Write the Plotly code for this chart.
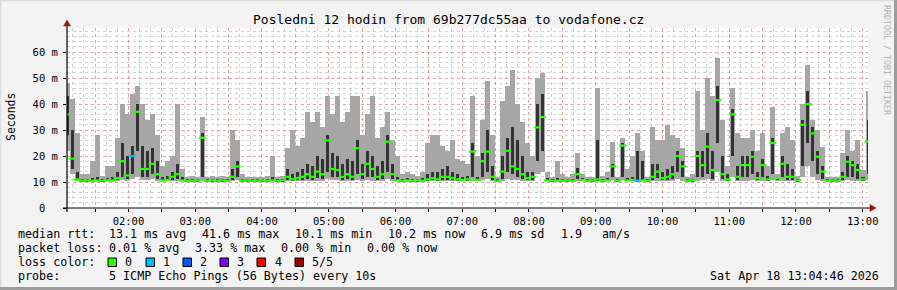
import pandas as pd
import plotly.graph_objects as go

# ---------------- data ----------------
start_time = "2026-04-18 01:04:46"
step_seconds = 270
n_samples = 161

rtt_median = [
    36, 19, 11, 10.5, 10.6, 10.5, 10.6, 10.5, 10.7, 10.6,
    11.5, 18, 12.5, 20, 37, 15, 15, 17, 13, 10.6,
    10.8, 12, 13, 10.6, 10.5, 10.5, 10.6, 27, 10.5, 10.6,
    10.5, 10.6, 10.5, 12, 16, 10.5, 10.6, 10.5, 10.5, 10.6,
    10.5, 10.6, 10.5, 10.6, 12, 11, 11.5, 12, 13, 12,
    14, 13, 26, 15, 14.6, 12, 13, 12, 23, 13,
    17, 15, 12, 13, 25.5, 13, 10.6, 10.5, 10.6, 10.5,
    10.6, 10.5, 11, 11.5, 11, 12, 12, 11.5, 11, 10.8,
    11, 21.7, 10.8, 18, 21.7, 12, 10.5, 14, 22, 16,
    15, 13, 11.5, 12, 31, 35, 10.6, 10.5, 10.5, 10.5,
    10.6, 10.5, 13, 10.8, 10.5, 10.6, 11, 10.5, 10.6, 16,
    10.5, 24, 10.6, 10.8, 10.5, 10.6, 10.5, 12, 14, 11.5,
    12, 13, 20, 16, 10.5, 10.6, 20, 16.5, 23.6, 14.6,
    41.5, 13, 11, 36, 12, 16.5, 16.5, 19.7, 11.5, 16.5,
    11, 25, 11.5, 17, 12, 12, 10.6, 32, 40, 28.7,
    19.7, 14, 10.5, 10.6, 10.5, 12, 17.8, 16.5, 14.6, 11,
    25.5,
]

rtt_max = [
    48, 42, 29, 13, 13, 18, 28, 12.5, 16, 16,
    27, 40, 36, 44, 47, 40, 34, 36, 28, 16,
    18, 20, 40, 15, 12, 12.5, 12, 35, 12, 12.5,
    12, 12.5, 12, 30, 26, 13, 12, 11.8, 12, 12,
    12.5, 20, 12, 12.5, 23, 30, 24, 27, 37, 33,
    37, 31, 43, 36, 43, 33, 37, 43, 43, 28,
    36, 43, 27, 31, 37, 26, 20, 13, 14, 13,
    12.5, 14, 25, 28, 28, 24, 22, 26, 19, 18,
    17, 43, 20, 34, 49, 28, 12, 41, 47, 53,
    40, 33, 25, 20, 50, 52, 14, 12, 18, 13,
    12, 13, 21, 13, 12, 12, 46, 12.5, 14, 25.5,
    11.8, 27, 15, 20, 29, 22, 12, 31, 26, 26,
    32, 28, 27, 23, 12, 13, 45, 30, 50, 43,
    57.6, 34, 16, 46, 29, 27, 27, 30, 22, 29,
    16, 39, 13, 29, 31, 26, 12.5, 40, 55, 34,
    30, 23.6, 12, 11.8, 12, 21, 30, 22, 26, 14.6,
    45,
]

rtt_upper = [
    43, 30, 14, 11, 11, 11.5, 12, 11, 11.5, 12,
    14, 25, 20, 24, 40, 24, 22, 23, 18, 12,
    12.5, 14, 17, 12, 11, 11, 11, 29, 11, 11,
    11, 11, 11.2, 15, 18, 11, 11, 11, 11, 11,
    11, 12, 11, 11, 15, 13, 14, 15, 17, 16,
    20, 19, 28, 21, 20, 17, 19, 18, 26, 17,
    22, 20, 16, 18, 28, 17, 12, 11, 11.5, 11,
    11, 11.5, 13, 14, 14, 15, 16, 14, 13, 12,
    12.5, 25, 12, 21, 30, 16, 11, 20, 27, 31,
    26, 20, 14, 14, 40, 44, 11.5, 11, 11.5, 11,
    11, 11.2, 15.5, 11.5, 11, 11, 26, 11, 11.5, 17,
    11, 25, 11.5, 12, 22, 18, 11, 17, 17, 14,
    15, 16, 22, 18, 11, 11, 22, 22, 29, 22,
    47, 20, 13, 38, 16, 20, 20, 22, 14, 19,
    12.5, 27, 12, 20, 17, 15, 11, 34, 45, 31,
    22, 16, 11, 11, 11, 14, 20, 18, 17, 12,
    34,
]

rtt_lower = [
    28, 15, 10.6, 10.3, 10.3, 10.3, 10.4, 10.3, 10.4, 10.4,
    10.8, 12, 11, 13, 22, 12, 12, 13, 11, 10.4,
    10.4, 10.8, 11, 10.4, 10.3, 10.3, 10.3, 12, 10.3, 10.3,
    10.3, 10.3, 10.3, 10.8, 12, 10.3, 10.3, 10.3, 10.3, 10.3,
    10.3, 10.4, 10.3, 10.3, 10.8, 10.5, 10.6, 10.8, 11, 10.8,
    11.5, 11, 14, 12, 12, 10.8, 11, 10.8, 13, 11,
    12, 12, 10.8, 11, 14, 11, 10.4, 10.3, 10.3, 10.3,
    10.3, 10.3, 10.5, 10.6, 10.5, 10.8, 10.8, 10.6, 10.5, 10.4,
    10.5, 12, 10.4, 12, 14, 10.8, 10.3, 11, 14, 13,
    12, 11, 10.6, 10.8, 18, 22, 10.4, 10.3, 10.3, 10.3,
    10.3, 10.3, 11, 10.4, 10.3, 10.3, 10.5, 10.3, 10.4, 12,
    10.3, 12, 10.4, 10.4, 10.3, 10.4, 10.3, 10.8, 11.5, 10.6,
    10.8, 11, 14, 12, 10.3, 10.3, 12, 12, 13, 11,
    25, 11, 10.4, 20, 10.8, 12, 12, 13, 10.6, 12,
    10.4, 13, 10.6, 12, 10.8, 10.8, 10.3, 16, 25, 18,
    13, 11, 10.3, 10.3, 10.3, 10.8, 12, 12, 11, 10.4,
    13,
]

rtt_min = [
    22, 13, 10.3, 10.1, 10.1, 10.1, 10.2, 10.1, 10.2, 10.2,
    10.3, 10.6, 10.4, 11, 12, 10.6, 10.6, 11, 10.5, 10.2,
    10.2, 10.3, 10.4, 10.2, 10.1, 10.1, 10.1, 10.5, 10.1, 10.1,
    10.1, 10.1, 10.1, 10.3, 10.6, 10.1, 10.1, 10.1, 10.1, 10.1,
    10.1, 10.2, 10.1, 10.1, 10.3, 10.2, 10.3, 10.4, 10.4, 10.3,
    10.5, 10.4, 11, 10.6, 10.6, 10.3, 10.4, 10.3, 10.8, 10.4,
    10.6, 10.5, 10.3, 10.4, 11, 10.4, 10.2, 10.1, 10.1, 10.1,
    10.1, 10.1, 10.2, 10.2, 10.2, 10.3, 10.3, 10.2, 10.2, 10.2,
    10.2, 10.5, 10.2, 10.6, 11, 10.4, 10.1, 10.4, 11, 10.8,
    10.6, 10.4, 10.2, 10.3, 13, 14, 10.2, 10.1, 10.1, 10.1,
    10.1, 10.1, 10.4, 10.2, 10.1, 10.1, 10.2, 10.1, 10.2, 10.6,
    10.1, 10.6, 10.2, 10.2, 10.1, 10.2, 10.1, 10.3, 10.5, 10.2,
    10.3, 10.4, 11, 10.5, 10.1, 10.1, 10.5, 10.6, 11, 10.4,
    14, 10.4, 10.2, 12, 10.3, 10.5, 10.5, 10.8, 10.2, 10.5,
    10.2, 10.8, 10.2, 10.5, 10.3, 10.3, 10.1, 12, 16, 12,
    10.8, 10.4, 10.1, 10.1, 10.1, 10.3, 10.6, 10.5, 10.4, 10.2,
    10.8,
]

# sample index -> number of lost pings (out of 5)
loss_events = {13: 1, 114: 1}

loss_labels = ["0", "1", "2", "3", "4", "5/5"]
loss_colors = ["#26ff00", "#00b8ff", "#0059ff", "#7e00ff", "#ff0000", "#a10000"]

hour_labels = ["02:00", "03:00", "04:00", "05:00", "06:00", "07:00",
               "08:00", "09:00", "10:00", "11:00", "12:00", "13:00"]
half_hour_lines = ["01:30", "02:30", "03:30", "04:30", "05:30", "06:30",
                   "07:30", "08:30", "09:30", "10:30", "11:30", "12:30"]

y_tick_values = [0, 10, 20, 30, 40, 50, 60]
y_tick_labels = ["0\u00a0\u00a0", "10 m", "20 m", "30 m", "40 m", "50 m", "60 m"]

title_text = "Posledni 12 hodin from 69b277dc55aa to vodafone.cz"
rtt_stats = ["13.1 ms avg", "41.6 ms max", "10.1 ms min", "10.2 ms now",
             "6.9 ms sd", "1.9", "am/s"]
loss_stats = ["0.01 % avg", "3.33 % max", "0.00 % min", "0.00 % now"]
probe_text = "5 ICMP Echo Pings (56 Bytes) every 10s"
date_text = "Sat Apr 18 13:04:46 2026"
end_time = "2026-04-18 13:04:46"
day = "2026-04-18 "

# ---------------- figure ----------------
W, H = 897, 290
L, R, T, B = 67, 868, 28, 208
MONO = "DejaVu Sans Mono"

def px(x):
    return (x - L) / (R - L)

def py(y):
    return (B - y) / (B - T)

times = pd.date_range(start_time, periods=n_samples, freq=f"{step_seconds}s")
bar_w = step_seconds * 1000

fig = go.Figure()
fig.add_trace(go.Bar(
    x=times, base=rtt_min, y=[h - l for h, l in zip(rtt_max, rtt_min)],
    width=bar_w, marker=dict(color="#a6a6a6", line=dict(width=0)),
    hoverinfo="skip"))
fig.add_trace(go.Bar(
    x=times, base=rtt_lower, y=[h - l for h, l in zip(rtt_upper, rtt_lower)],
    width=bar_w * 0.6, marker=dict(color="#333333", line=dict(width=0)),
    hoverinfo="skip"))
med_colors = [loss_colors[loss_events.get(i, 0)] for i in range(n_samples)]
fig.add_trace(go.Scatter(
    x=times, y=rtt_median, mode="markers",
    marker=dict(symbol="line-ew", size=5,
                line=dict(width=2.2, color=med_colors)),
    hoverinfo="skip"))

ymax = 60 + (52 - T) / 2.6

major_x = [day + t for t in half_hour_lines + hour_labels]
major_text = [""] * len(half_hour_lines) + hour_labels

GRID_MAJOR = "rgba(240,100,100,0.42)"
GRID_MINOR = "rgba(150,150,150,0.42)"

fig.update_layout(
    width=W, height=H,
    margin=dict(l=L, r=W - R, t=T, b=H - B, pad=0),
    paper_bgcolor="#f3f3f3", plot_bgcolor="#ffffff",
    showlegend=False, barmode="overlay", bargap=0,
    font=dict(family=MONO, color="#000000"),
    xaxis=dict(
        type="date", range=[start_time, end_time],
        tickmode="array", tickvals=major_x, ticktext=major_text,
        showgrid=True, gridcolor=GRID_MAJOR, griddash="dot", gridwidth=1,
        ticks="outside", ticklen=3, tickcolor="#000000", tickwidth=1,
        tickfont=dict(family=MONO, size=10.5, color="#000000"),
        minor=dict(dtick=600000, tick0="2026-04-18 01:00:00", showgrid=True,
                   gridcolor=GRID_MINOR, griddash="dot", gridwidth=1,
                   ticks=""),
        showline=False, zeroline=False, fixedrange=True,
    ),
    yaxis=dict(
        range=[0, ymax], tickmode="array", tickvals=y_tick_values, ticktext=y_tick_labels,
        showgrid=True, gridcolor=GRID_MAJOR, griddash="dot", gridwidth=1,
        ticks="outside", ticklen=3, tickcolor="#000000", tickwidth=1,
        ticklabelstandoff=3,
        tickfont=dict(family=MONO, size=10.5, color="#000000"),
        minor=dict(dtick=2, showgrid=True, gridcolor=GRID_MINOR,
                   griddash="dot", gridwidth=1, ticks=""),
        showline=False, zeroline=False, fixedrange=True,
    ),
)

shapes = []
# axes lines
shapes.append(dict(type="line", xref="paper", yref="paper",
                   x0=px(63), x1=px(872), y0=0, y1=0,
                   line=dict(color="#000000", width=1.2)))
shapes.append(dict(type="line", xref="paper", yref="paper",
                   x0=0, x1=0, y0=py(212), y1=py(24),
                   line=dict(color="#000000", width=1.2)))
# arrows
shapes.append(dict(type="path", xref="paper", yref="paper",
                   path=f"M {px(870)} {py(204.5)} L {px(876)} {py(208)} L {px(870)} {py(211.5)} Z",
                   fillcolor="#a11010", line=dict(color="#a11010", width=0.5)))
shapes.append(dict(type="path", xref="paper", yref="paper",
                   path=f"M {px(63.5)} {py(26)} L {px(67)} {py(20)} L {px(70.5)} {py(26)} Z",
                   fillcolor="#a11010", line=dict(color="#a11010", width=0.5)))
# 3D frame
shapes.append(dict(type="line", xref="paper", yref="paper",
                   x0=px(0), x1=px(W), y0=py(0.5), y1=py(0.5),
                   line=dict(color="#dcdcdc", width=1.5)))
shapes.append(dict(type="line", xref="paper", yref="paper",
                   x0=px(0.5), x1=px(0.5), y0=py(0), y1=py(H),
                   line=dict(color="#dcdcdc", width=1.5)))
shapes.append(dict(type="line", xref="paper", yref="paper",
                   x0=px(W - 1.5), x1=px(W - 1.5), y0=py(0), y1=py(H),
                   line=dict(color="#9c9c9c", width=3)))
shapes.append(dict(type="line", xref="paper", yref="paper",
                   x0=px(0), x1=px(W), y0=py(H - 1.5), y1=py(H - 1.5),
                   line=dict(color="#9c9c9c", width=3)))

# loss colour boxes
box_x = [108, 146, 183, 220, 257, 295]
lbl_x = [123, 161, 198, 235, 273, 310]
for bx, col in zip(box_x, loss_colors):
    shapes.append(dict(type="rect", xref="paper", yref="paper",
                       x0=px(bx), x1=px(bx + 8.5), y0=py(266.5), y1=py(258),
                       fillcolor=col, line=dict(color="#000000", width=1)))
fig.update_layout(shapes=shapes)

LEG = 11.7
ann = []

def text(x, y, s, size=LEG, anchor="left", color="#000000", angle=0):
    ann.append(dict(xref="paper", yref="paper", x=px(x), y=py(y), text=s,
                    showarrow=False, xanchor=anchor, yanchor="middle",
                    textangle=angle,
                    font=dict(family=MONO, size=size, color=color)))

text(448.5, 20, title_text, size=13, anchor="center")
text(11, 117, "Seconds", size=11.5, anchor="center", angle=-90)
text(887, 60, "RRDTOOL / TOBI OETIKER", size=8.3, anchor="center",
     color="#b4b4b4", angle=90)

y1, y2, y3, y4 = 234, 248, 262, 276
text(16, y1, "median rtt:")
for xx, s in zip([107, 200, 293, 386, 479, 559, 600], rtt_stats):
    text(xx, y1, s)
text(16, y2, "packet loss:")
for xx, s in zip([107, 193, 279, 365], loss_stats):
    text(xx, y2, s)
text(16, y3, "loss color:")
for xx, s in zip(lbl_x, loss_labels):
    text(xx, y3, s)
text(16, y4, "probe:")
text(107, y4, probe_text)
text(881, y4, date_text, anchor="right")

fig.update_layout(annotations=ann)
fig.write_html("out.html")
